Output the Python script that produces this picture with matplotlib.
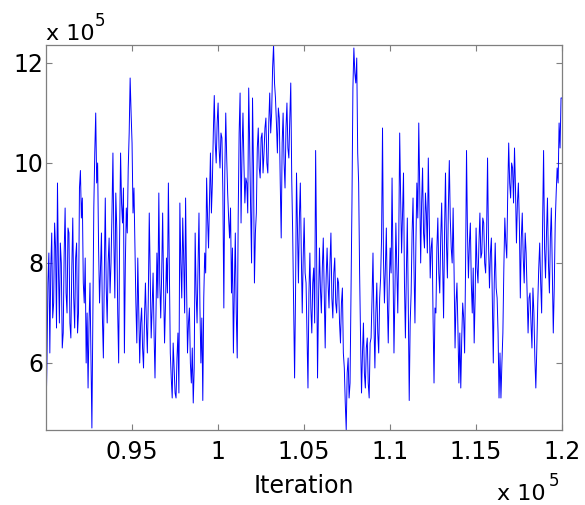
import numpy as np
import matplotlib
matplotlib.use("Agg")
import matplotlib.pyplot as plt

# Trace values (x 1e5), read segment by segment from left to right
seg1 = [4.95, 6.0, 7.6, 8.2, 6.2, 7.9, 8.6, 6.9, 7.2, 8.8, 8.3, 6.7, 9.6, 7.9, 6.8, 8.4, 8.0,
        6.3, 6.6, 8.2, 9.1, 7.4, 7.0, 8.7, 8.6, 6.8, 6.5, 7.9, 8.9, 7.3, 6.7, 8.1, 8.4, 6.6,
        7.0, 9.5, 9.85, 8.9, 9.3, 7.6, 7.2, 8.1, 6.0, 7.0, 5.5, 6.8, 7.6, 6.2, 4.7, 6.9, 9.1,
        10.2, 11.0, 9.6, 10.0, 8.3, 7.2, 7.9, 8.6, 6.9, 6.1, 7.8, 9.3, 7.5, 6.8, 8.0, 8.5, 7.4]
seg2 = [8.0, 9.0, 10.2, 8.4, 7.3, 9.4, 8.7, 7.0, 6.0, 8.5, 10.2, 9.2, 8.8, 9.5, 6.2, 8.0, 9.1,
        8.6, 9.9, 10.6, 11.7, 11.0, 10.4, 9.0, 9.5, 8.4, 7.2, 6.4, 8.1, 7.0, 6.0, 6.8, 7.1, 6.3,
        5.9, 6.9, 7.6, 6.8, 6.2, 7.3, 9.0, 7.7, 6.5, 7.1, 7.8, 6.6, 5.7, 7.0, 8.2, 7.3, 9.4,
        7.6, 6.9, 7.8, 9.0, 7.5, 6.4, 7.2, 8.1, 7.4, 9.6, 7.9, 6.2, 5.7, 5.3, 6.4, 5.9, 5.4]
seg3 = [5.3, 6.1, 6.6, 5.4, 9.2, 8.0, 7.3, 8.9, 8.1, 7.0, 9.3, 7.6, 6.2, 6.8, 7.1, 6.0, 5.6,
        6.3, 5.2, 5.9, 8.6, 7.4, 6.8, 7.9, 9.0, 7.1, 6.0, 6.9, 5.25, 7.3, 8.2, 7.8, 9.7, 8.9,
        8.3, 9.2, 10.2, 9.0, 9.6, 10.6, 11.35, 10.4, 10.0, 10.8, 11.2, 10.3, 9.9, 10.6, 10.5,
        9.4, 7.1, 9.8, 11.0, 10.1, 9.4, 8.9, 8.5, 9.1, 7.4, 8.3, 6.2, 7.5, 8.6, 7.0, 6.1, 8.9,
        10.6, 11.4]
seg4 = [8.8, 10.2, 11.0, 10.0, 9.2, 9.7, 9.6, 9.0, 11.5, 10.4, 9.1, 8.0, 11.3, 9.9, 7.6, 8.6,
        9.0, 10.3, 10.7, 9.9, 9.7, 10.5, 10.6, 9.8, 10.2, 10.7, 10.9, 10.0, 9.8, 10.8, 11.4,
        10.6, 11.0, 11.9, 12.36, 11.6, 11.3, 10.8, 10.2, 11.1, 10.9, 9.6, 8.5, 10.4, 11.0, 10.0,
        9.5, 10.7, 11.2, 10.3, 10.1, 10.9, 11.6, 9.7, 8.6, 7.2, 5.7, 7.4, 9.8, 8.7, 7.6, 8.9,
        9.6, 8.2, 7.0, 8.1, 8.9, 7.8]
seg5 = [7.6, 6.6, 5.5, 7.4, 8.2, 7.1, 6.6, 7.6, 7.9, 6.8, 10.25, 8.3, 5.7, 7.2, 8.3, 7.5, 7.0,
        7.9, 8.5, 7.4, 6.3, 7.7, 8.3, 7.6, 7.1, 8.0, 8.6, 7.3, 6.9, 7.8, 8.1, 7.2, 7.0, 7.7,
        7.6, 6.8, 6.4, 7.2, 7.5, 6.2, 5.9, 5.2, 4.66, 5.8, 6.1, 5.3, 5.6, 7.4, 9.2, 11.5, 12.3,
        11.8, 11.6, 12.1, 10.2, 9.6, 7.8, 6.5, 5.4, 6.2, 6.8, 5.8, 5.5, 6.3, 6.5, 5.6, 5.3, 6.4]
seg6 = [6.5, 7.3, 8.2, 6.8, 5.9, 7.0, 7.6, 6.6, 6.2, 7.3, 7.7, 8.5, 10.7, 8.1, 7.2, 7.9, 8.7,
        7.3, 6.4, 7.5, 8.3, 7.8, 9.7, 8.0, 6.2, 7.4, 8.8, 7.9, 7.0, 8.4, 10.6, 9.3, 8.2, 9.0,
        9.8, 7.6, 6.5, 7.8, 8.9, 7.2, 5.25, 6.8, 7.4, 8.6, 9.3, 7.9, 6.8, 8.4, 9.6, 8.9, 10.8,
        9.5, 8.0, 9.2, 9.9, 8.6, 8.3, 9.4, 9.0, 8.2, 10.1, 8.9, 7.7, 8.3, 8.5, 6.9, 5.6, 7.1]
seg7 = [7.0, 8.3, 8.9, 7.8, 7.4, 8.5, 9.2, 8.0, 6.9, 8.6, 9.8, 8.4, 7.7, 9.1, 10.05, 8.9, 8.3,
        8.0, 9.1, 7.8, 6.3, 7.2, 7.6, 6.7, 5.6, 6.6, 5.5, 6.5, 7.2, 6.9, 6.2, 7.9, 10.25, 8.6,
        7.7, 8.4, 8.8, 7.6, 7.0, 7.9, 6.4, 7.3, 8.7, 7.9, 7.6, 8.4, 9.0, 8.1, 8.2, 8.9, 8.8,
        8.0, 7.8, 8.6, 10.1, 8.4, 7.5, 8.2, 8.5, 7.3, 6.0, 7.6, 8.4, 7.5, 7.3, 6.6, 5.3, 6.2]
seg8 = [5.3, 6.0, 6.6, 7.9, 8.9, 8.4, 8.1, 9.4, 10.4, 9.6, 9.3, 10.0, 9.9, 9.2, 10.3, 9.5,
        8.4, 9.2, 9.6, 8.8, 7.3, 8.5, 9.0, 8.1, 7.6, 8.6, 8.2, 7.4, 6.6, 7.3, 7.4, 6.8, 6.3,
        7.5, 7.0, 6.1, 5.5, 6.3, 7.2, 7.9, 8.4, 7.6, 7.0, 8.8, 10.25, 8.3, 7.7, 8.6, 9.3, 8.0,
        7.4, 8.5, 9.1, 7.8, 6.6, 7.5, 8.8, 9.4, 9.9, 9.6, 10.8, 10.3, 11.3, 11.3]

# iteration (x 1e5) where each segment starts / ends
seg_bounds = [0.9, 0.9378, 0.9756, 1.0134, 1.0512, 1.0890, 1.1267, 1.1645, 1.2]

x_ticks = [0.95, 1.0, 1.05, 1.1, 1.15, 1.2]
x_tick_labels = ["0.95", "1", "1.05", "1.1", "1.15", "1.2"]
y_ticks = [6, 8, 10, 12]
y_tick_labels = ["6", "8", "10", "12"]

segs = [seg1, seg2, seg3, seg4, seg5, seg6, seg7, seg8]
xs, ys = [], []
for i, s in enumerate(segs):
    last = (i == len(segs) - 1)
    xs.append(np.linspace(seg_bounds[i], seg_bounds[i + 1], len(s), endpoint=last))
    ys.append(np.array(s))
iters = np.concatenate(xs)
values = np.concatenate(ys)

plt.rcParams['font.family'] = ['DejaVu Sans']

fig = plt.figure(figsize=(5.85, 5.05), dpi=100)
ax = fig.add_axes([46/585, 1-430/505, (562-46)/585, (430-45)/505])
ax.plot(iters, values, color=(0, 0, 1), linewidth=0.7)
ax.set_xlim(seg_bounds[0], seg_bounds[-1])
ax.set_ylim(values.min(), values.max())

ax.set_xticks(x_ticks)
ax.set_xticklabels(x_tick_labels)
ax.set_yticks(y_ticks)
ax.set_yticklabels(y_tick_labels)
ax.tick_params(direction='in', length=4, width=0.8, color='#7f7f7f',
               labelsize=17, top=True, right=True)
ax.tick_params(axis='x', pad=7)
ax.tick_params(axis='y', pad=2)
for s in ax.spines.values():
    s.set_color('#7f7f7f')
    s.set_linewidth(0.9)

fig.text(304/585, 1-493/505, "Iteration", ha='center', va='baseline', fontsize=17)
# exponent labels
fig.text(46/585, 1-40/505, "x 10", ha='left', va='baseline', fontsize=16)
fig.text(95/585, 1-26/505, "5", ha='left', va='baseline', fontsize=12)
fig.text(497/585, 1-500/505, "x 10", ha='left', va='baseline', fontsize=16)
fig.text(549/585, 1-486/505, "5", ha='left', va='baseline', fontsize=12)

fig.savefig("out.png", dpi=100)
